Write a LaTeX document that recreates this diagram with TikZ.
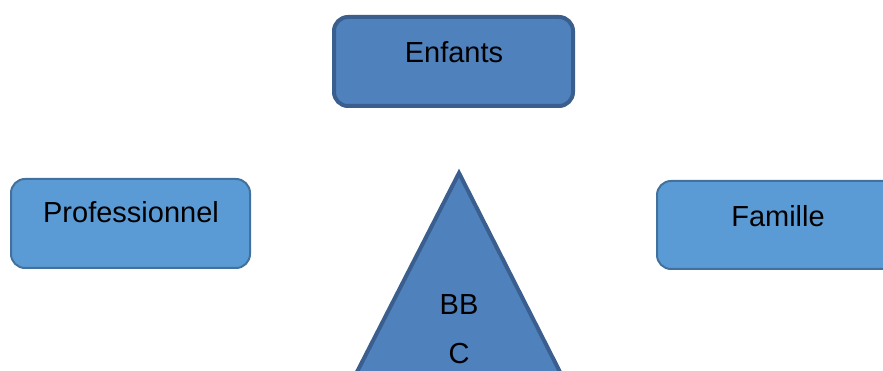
\documentclass[tikz,border=0pt]{standalone}
\usepackage{fontspec}
\setmainfont{Liberation Sans}
\begin{document}
\begin{tikzpicture}[x=1pt,y=-1pt,
  darkbox/.style={draw=darkedge,fill=darkfill,line width=4pt,rounded corners=14pt,inner sep=0pt},
  lightbox/.style={draw=lightedge,fill=lightfill,line width=2pt,rounded corners=14pt,inner sep=0pt},
  lbl/.style={anchor=base,inner sep=0pt,font=\fontsize{29}{34}\selectfont,text=black}]
\definecolor{darkfill}{HTML}{4F81BD}
\definecolor{darkedge}{HTML}{3A5F8E}
\definecolor{lightfill}{HTML}{5B9BD5}
\definecolor{lightedge}{HTML}{41719C}
\useasboundingbox (0,0) rectangle (883,371);
\clip (0,0) rectangle (883,371);

% top box
\node[darkbox,minimum width=239pt,minimum height=89pt] (enf) at (453.5,61.5) {};
\node[lbl] (enft) at (454,63) {Enfants};

% left box
\node[lightbox,minimum width=239pt,minimum height=89pt] (pro) at (130.5,223.5) {};
\node[lbl] (prot) at (131,223) {Professionnel};

% right box, running off the right edge
\node[lightbox,minimum width=260pt,minimum height=88pt] (fam) at (787,225) {};
\node[lbl] (famt) at (778,227) {Famille};

% triangle, its base below the lower edge
\coordinate (apex) at (459,173);
\coordinate (bl) at (342.6,400);
\coordinate (br) at (574.2,400);
\draw[draw=darkedge,fill=darkfill,line width=4pt,line join=miter] (apex) -- (br) -- (bl) -- cycle;
\node[lbl] (bb) at (459,314) {BB};
\node[lbl] (c) at (459,363) {C};
\end{tikzpicture}
\end{document}
